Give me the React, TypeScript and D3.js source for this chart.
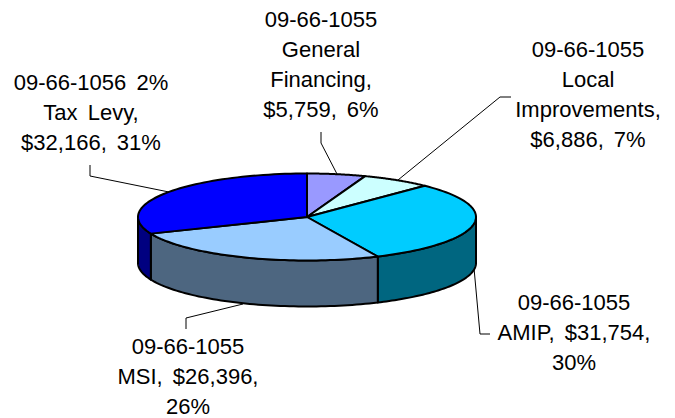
import React from 'react'
import * as d3 from 'd3'

const width = 675
const height = 418

// clockwise from 12 o'clock
const names = ['General Financing', 'Local Improvements', 'AMIP', 'MSI', 'Tax Levy']
const amounts = [5759, 6886, 31754, 26396, 32166]
const topColors = ['#9999ff', '#ccffff', '#00ccff', '#99ccff', '#0000ff']
const sideColors = ['#4d4d80', '#668080', '#006680', '#4d6680', '#000080']

const labelLines = [
  ['09-66-1055', 'General', 'Financing,', '$5,759, 6%'],
  ['09-66-1055', 'Local', 'Improvements,', '$6,886, 7%'],
  ['09-66-1055', 'AMIP, $31,754,', '30%'],
  ['09-66-1055', 'MSI, $26,396,', '26%'],
  ['09-66-1056 2%', 'Tax Levy,', '$32,166, 31%'],
]
const labelCenters = [
  [321, 20],
  [588, 50],
  [574, 303],
  [188, 347],
  [91, 83],
]
const leaders = [
  [[321, 132], [321, 143], [337, 174]],
  [[511, 97], [500, 97], [398, 180]],
  [[474, 268], [480, 334], [490, 334]],
  [[243, 304], [186, 318], [186, 329]],
  [[90, 165], [90, 176], [169, 192]],
]

const cx = 307
const cy = 217
const rx = 169
const ry = 43.5
const depth = 46
const lineGap = 30

const px = (a: number) => cx + rx * Math.sin(a)
const py = (a: number) => cy - ry * Math.cos(a)

export default function App() {
  const slices = d3.pie<number>().sort(null)(amounts)
  const curve = d3.line<[number, number]>()

  // outer rim points of an angle span
  const rim = (a0: number, a1: number, dy: number) =>
    d3.range(0, 61).map((i): [number, number] => {
      const a = a0 + ((a1 - a0) * i) / 60
      return [px(a), py(a) + dy]
    })

  const topPath = (a0: number, a1: number) =>
    curve([[cx, cy], ...rim(a0, a1, 0)]) + 'Z'

  const sidePath = (a0: number, a1: number) => {
    const s = Math.max(a0, Math.PI / 2)
    const e = Math.min(a1, (Math.PI * 3) / 2)
    if (e <= s) return null
    return curve([...rim(s, e, 0), ...rim(e, s, depth)]) + 'Z'
  }

  return (
    <svg
      width={width}
      height={height}
      style={{ position: 'absolute', left: 0, top: 0 }}
      fontFamily="'Liberation Sans', Arial, sans-serif"
      fontSize={22}
      wordSpacing={4}
    >
      <rect width={width} height={height} fill="#ffffff" />
      {leaders.map((pts, i) => (
        <path
          key={names[i]}
          d={curve(pts as [number, number][]) as string}
          fill="none"
          stroke="#000"
          strokeWidth={1}
        />
      ))}
      {slices.map((d, i) => {
        const side = sidePath(d.startAngle, d.endAngle)
        return side ? (
          <path key={i} d={side} fill={sideColors[i]} stroke="#000" strokeWidth={2} strokeLinejoin="round" />
        ) : null
      })}
      {slices.map((d, i) => (
        <path
          key={i}
          d={topPath(d.startAngle, d.endAngle)}
          fill={topColors[i]}
          stroke="#000"
          strokeWidth={2}
          strokeLinejoin="round"
        />
      ))}
      {labelLines.map((lines, i) => (
        <text key={names[i]} textAnchor="middle" fill="#000">
          {lines.map((t, j) => (
            <tspan key={j} x={labelCenters[i][0]} y={labelCenters[i][1] + 7 + j * lineGap}>
              {t}
            </tspan>
          ))}
        </text>
      ))}
    </svg>
  )
}
